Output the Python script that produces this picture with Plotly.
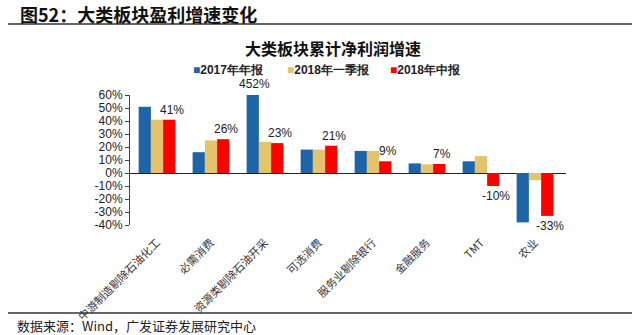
import plotly.graph_objects as go

categories = ["中游制造剔除石油化工", "必需消费", "资源类剔除石油开采", "可选消费",
              "服务业剔除银行", "金融服务", "TMT", "农业"]
s2017 = [51, 16, 452, 18, 17, 7.4, 9, -38]
s2018q1 = [41, 25, 24, 18, 17, 6.7, 13, -5.6]
s2018h1 = [41, 26, 23, 21, 9, 7, -10, -33]
series_names = ["2017年年报", "2018年一季报", "2018年中报"]
colors = ["#1e64a6", "#e3c36b", "#ff0000"]
yticks = [-40, -30, -20, -10, 0, 10, 20, 30, 40, 50, 60]
ytick_labels = [f"{v}%" for v in yticks]

cjk = "Noto Sans CJK SC"
lat = "Liberation Sans, Arial"

fig = go.Figure()
for name, vals, c in zip(series_names, [s2017, s2018q1, s2018h1], colors):
    fig.add_trace(go.Bar(x=categories, y=vals, name=name, marker_color=c,
                         marker_line_width=0, showlegend=False))

annotations = []
# labels on the 2018 mid-year series
for cat, v in zip(categories, s2018h1):
    annotations.append(dict(x=cat, y=v, xref="x", yref="y", text=f"{v}%",
                            showarrow=False, xshift=15,
                            yanchor="bottom" if v >= 0 else "top",
                            yshift=1 if v >= 0 else -1,
                            font=dict(family=lat, size=12, color="#222")))
# clipped value label
annotations.append(dict(x=categories[2], y=60, xref="x", yref="y", text=f"{s2017[2]}%",
                        showarrow=False, xshift=-11, yanchor="bottom", yshift=2,
                        font=dict(family=lat, size=12, color="#222")))

pix = []
pix.append(dict(x=18, y=14, text="<b>图52：大类板块盈利增速变化</b>", xanchor="left",
                font=dict(family=cjk, size=18, color="#111")))
pix.append(dict(x=333, y=48, text="<b>大类板块累计净利润增速</b>", xanchor="center",
                font=dict(family=cjk, size=16, color="#111")))
pix.append(dict(x=15, y=325, text="数据来源：Wind，广发证券发展研究中心", xanchor="left",
                font=dict(family=cjk, size=13, color="#222")))
# legend entries
legend_x = [191, 285, 388]
for lx, name, c in zip(legend_x, series_names, colors):
    pix.append(dict(x=lx, y=70, xanchor="left",
                    text=f"<span style='color:{c}'>■</span><b>{name}</b>",
                    font=dict(family=lat, size=12, color="#222")))

W, H = 641, 335
ml, mr, mt, mb = 130, 75, 95, 110
pw, ph = W - ml - mr, H - mt - mb
for a in pix:
    a.update(xref="paper", yref="paper", showarrow=False, yanchor="middle",
             x=(a["x"] - ml) / pw, y=1 - (a["y"] - mt) / ph)
    annotations.append(a)

def hline(y):
    return dict(type="line", xref="paper", yref="paper",
                x0=(8 - ml) / pw, x1=(632 - ml) / pw,
                y0=1 - (y - mt) / ph, y1=1 - (y - mt) / ph,
                line=dict(color="#333", width=1.5))

fig.update_layout(
    width=W, height=H,
    margin=dict(l=ml, r=mr, t=mt, b=mb, autoexpand=False),
    paper_bgcolor="white", plot_bgcolor="white",
    barmode="group", bargap=0.32, bargroupgap=0,
    showlegend=False,
    annotations=annotations,
    shapes=[hline(24), hline(313)],
    xaxis=dict(tickangle=-45, tickfont=dict(family=cjk, size=11, color="#333"),
               showline=False, ticks="outside", ticklen=6, tickcolor="rgba(0,0,0,0)",
               showgrid=False, fixedrange=True),
    yaxis=dict(range=[-40, 60], tickvals=yticks, ticktext=ytick_labels,
               tickfont=dict(family=lat, size=12, color="#222"),
               showgrid=False, showline=True, linecolor="#444", linewidth=1,
               ticks="outside", ticklen=4, tickcolor="#444",
               zeroline=True, zerolinecolor="#222", zerolinewidth=1.2),
)

fig.write_html("out.html")
